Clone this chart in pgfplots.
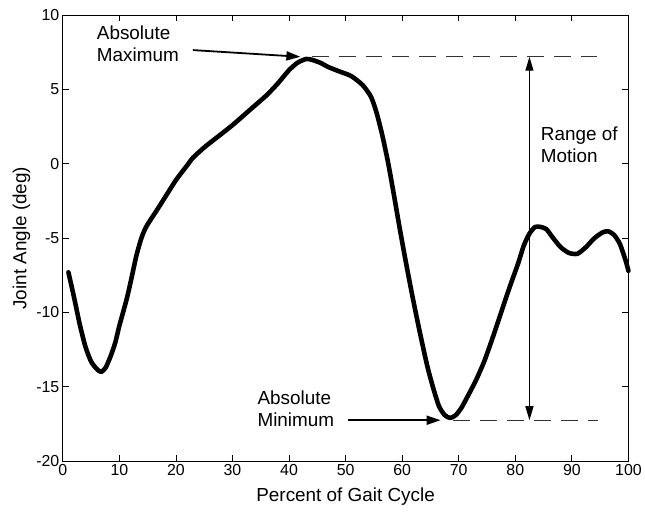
\documentclass[border=0pt]{standalone}
\usepackage{fontspec}
\setmainfont{Liberation Sans}
\usepackage{pgfplots}
\pgfplotsset{compat=1.18}
\usetikzlibrary{arrows.meta}

\begin{document}
\begin{tikzpicture}
\begin{axis}[
  scale only axis,
  width=567bp, height=447bp,
  xmin=0, xmax=100, ymin=-20, ymax=10,
  xtick={0,10,...,100}, ytick={-20,-15,...,10},
  tick align=inside,
  major tick length=6bp,
  axis line style={line width=0.9bp},
  every tick/.style={line width=0.8bp, black},
  tick label style={font=\fontsize{16}{18}\selectfont},
  /pgf/number format/assume math mode=true,
  xlabel={Percent of Gait Cycle},
  ylabel={Joint Angle (deg)},
  label style={font=\fontsize{19}{22}\selectfont},
  xlabel style={at={(axis description cs:0.5,-0.08)}, anchor=center},
  ylabel style={at={(axis description cs:-0.073,0.5)}, anchor=center},
  clip=false,
]
\addplot[black, line width=4.6bp, line join=round, line cap=round, smooth, tension=0.4] coordinates {
(1,-7.3) (2,-9.0) (3,-10.8) (4,-12.3) (5,-13.3) (6,-13.8) (6.8,-14.0)
(7.6,-13.7) (8.5,-12.9) (9.3,-12.0) (10,-10.9) (11.3,-9.1) (12.2,-7.6)
(13,-6.2) (13.9,-5.0) (14.8,-4.2) (16.5,-3.2) (18,-2.3) (20,-1.1)
(22,-0.1) (23,0.4) (25,1.1) (27,1.7) (30,2.6) (33,3.6) (36,4.6)
(38,5.4) (40,6.3) (41.5,6.8) (43,7.05) (44,7.0) (45.5,6.8) (47,6.5)
(49,6.2) (51,5.9) (53,5.3) (54.5,4.5) (55.5,3.4) (56.5,1.9) (57.5,0.1)
(58.5,-2.0) (59.5,-4.2) (60.5,-6.3) (61.5,-8.3) (62.5,-10.2) (63.5,-12.0)
(64.5,-13.7) (65.5,-15.1) (66.5,-16.3) (67.5,-16.9) (68.5,-17.1) (69.5,-16.9)
(70.5,-16.4) (71.5,-15.7) (73,-14.6) (74.5,-13.3) (76,-11.7) (77.5,-10.0)
(79,-8.3) (80.5,-6.7) (81.5,-5.5) (82.5,-4.7) (83.5,-4.25) (84.5,-4.25)
(85.5,-4.4) (86.5,-4.9) (88,-5.6) (89.5,-6.0) (91,-6.05) (92.5,-5.6)
(94,-5.0) (95.5,-4.6) (96.5,-4.55) (97.5,-4.8) (98.5,-5.4) (99.5,-6.5)
(100,-7.2)
};
% annotations
\draw[line width=0.9bp, black!80, dash pattern=on 17bp off 10bp] (axis cs:44,7.2) -- (axis cs:94.5,7.2);
\draw[line width=0.9bp, black!80, dash pattern=on 17bp off 10bp] (axis cs:69,-17.25) -- (axis cs:94.7,-17.25);
\draw[line width=1.3bp, {Triangle[length=14bp,width=8bp]}-{Triangle[length=14bp,width=8bp]}]
  (axis cs:82.5,7.2) -- (axis cs:82.5,-17.25);
\draw[line width=1.8bp, -{Triangle[length=14bp,width=9bp]}] (axis cs:23,7.65) -- (axis cs:42,7.2);
\draw[line width=1.8bp, -{Triangle[length=14bp,width=9bp]}] (axis cs:50.5,-17.25) -- (axis cs:66.8,-17.25);
\node[anchor=west, align=left, inner sep=0pt, font=\fontsize{19}{22}\selectfont] at (axis cs:6,8.1) {Absolute\\Maximum};
\node[anchor=west, align=left, inner sep=0pt, font=\fontsize{19}{22}\selectfont] at (axis cs:34.4,-16.45) {Absolute\\Minimum};
\node[anchor=west, align=left, inner sep=0pt, font=\fontsize{19}{22}\selectfont] at (axis cs:84.5,1.3) {Range of\\Motion};
% page margins as in the reference
\path (axis description cs:-0.111,-0.1186) rectangle (axis description cs:1.026,1.034);
\end{axis}
\end{tikzpicture}
\end{document}
